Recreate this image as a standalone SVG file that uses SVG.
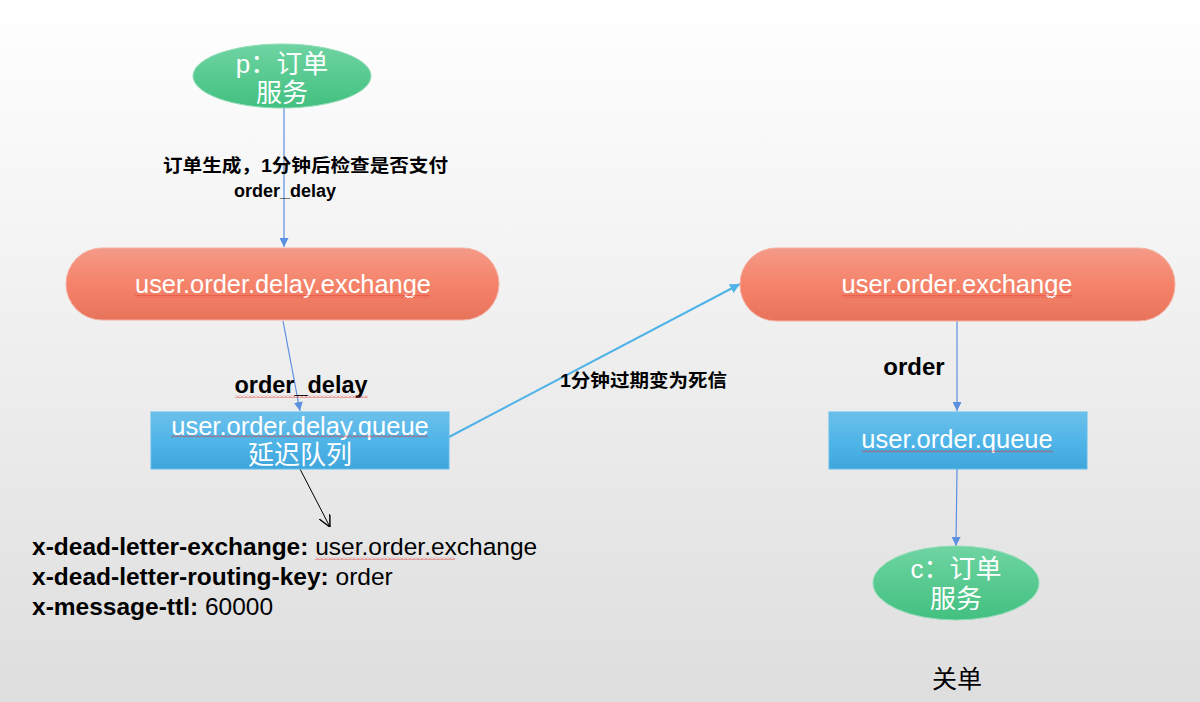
<svg xmlns="http://www.w3.org/2000/svg" width="1200" height="702" viewBox="0 0 1200 702">
<defs>
<linearGradient id="bg" x1="0" y1="0" x2="0" y2="1"><stop offset="0" stop-color="#ffffff"/><stop offset="1" stop-color="#dedede"/></linearGradient>
<linearGradient id="gGreen" x1="0" y1="0" x2="0" y2="1"><stop offset="0" stop-color="#6fd4a2"/><stop offset="1" stop-color="#42c080"/></linearGradient>
<linearGradient id="gRed" x1="0" y1="0" x2="0" y2="1"><stop offset="0" stop-color="#f49a88"/><stop offset="0.5" stop-color="#f5836a"/><stop offset="1" stop-color="#e7735a"/></linearGradient>
<linearGradient id="gBlue" x1="0" y1="0" x2="0" y2="1"><stop offset="0" stop-color="#6cc0ea"/><stop offset="0.5" stop-color="#50b5e8"/><stop offset="1" stop-color="#3fa6dc"/></linearGradient>
<pattern id="sq" width="4" height="3" patternUnits="userSpaceOnUse"><path d="M0,2.5 L2,0.5 L4,2.5" fill="none" stroke="#e0302a" stroke-width="0.8"/></pattern>
<marker id="ah" viewBox="0 0 10 10" refX="10" refY="5" markerWidth="9" markerHeight="9" markerUnits="userSpaceOnUse" orient="auto"><path d="M0,0 L10,5 L0,10 Z" fill="#5b8fe0"/></marker>
<marker id="ah2" viewBox="0 0 10 10" refX="10" refY="5" markerWidth="10" markerHeight="10" markerUnits="userSpaceOnUse" orient="auto"><path d="M0,0 L10,5 L0,10 Z" fill="#4fb3e8"/></marker>
<marker id="ahOpen" viewBox="0 0 10 10" refX="10" refY="5" markerWidth="12" markerHeight="12" markerUnits="userSpaceOnUse" orient="auto"><path d="M0,0 L10,5 L0,10" fill="none" stroke="#000" stroke-width="1.2"/></marker>
</defs>
<style>
.nt{font-family:"Liberation Sans","Noto Sans CJK SC",sans-serif;fill:#fff;text-anchor:middle}
.lb{font-family:"Liberation Sans","Noto Sans CJK SC",sans-serif;fill:#000;font-weight:bold}
.rg{font-family:"Liberation Sans","Noto Sans CJK SC",sans-serif;fill:#000}
.c1{stroke:#5b8fe0;stroke-width:1.2;fill:none;marker-end:url(#ah)}
.ell{fill:url(#gGreen);stroke:#8fdcb5;stroke-width:1}
.pill{fill:url(#gRed);stroke:#f6b0a2;stroke-width:1}
.q{fill:url(#gBlue);stroke:#62bdec;stroke-width:1}
.sq{fill:url(#sq)}
</style>
<rect width="1200" height="702" fill="url(#bg)"/>
<g id="connectors">
<line class="c1" x1="284" y1="108" x2="284" y2="247"/>
<line class="c1" x1="283" y1="321" x2="300" y2="411"/>
<line x1="449" y1="437" x2="740" y2="284" stroke="#4fb3e8" stroke-width="2" marker-end="url(#ah2)"/>
<line x1="300" y1="469" x2="330" y2="527" stroke="#000" stroke-width="1" marker-end="url(#ahOpen)"/>
<line class="c1" x1="957" y1="321" x2="957" y2="411"/>
<line class="c1" x1="957" y1="469" x2="956" y2="546"/>
</g>
<g id="labels">
<text class="lb" x="163" y="172" font-size="18" textLength="285" lengthAdjust="spacingAndGlyphs">订单生成，1分钟后检查是否支付</text>
<text class="lb" x="285" y="197" font-size="18" text-anchor="middle">order_delay</text>
<text class="lb" x="301" y="393" font-size="23.5" text-anchor="middle">order_delay</text>
<rect class="sq" x="235" y="395" width="133" height="3"/>
<text class="lb" x="560" y="387" font-size="18" textLength="167" lengthAdjust="spacingAndGlyphs">1分钟过期变为死信</text>
<text class="lb" x="914" y="375" font-size="24" text-anchor="middle">order</text>
</g>
<g id="producer">
<ellipse class="ell" cx="282" cy="76" rx="89" ry="32"/>
<text class="nt" x="282" y="73" font-size="26">p：订单</text>
<text class="nt" x="282" y="102" font-size="26">服务</text>
</g>
<g id="delay-exchange">
<rect class="pill" x="66" y="248" width="433" height="72" rx="36" ry="36"/>
<text class="nt" x="283" y="293" font-size="25.4">user.order.delay.exchange</text>
<rect class="sq" x="135" y="295" width="295" height="3"/>
</g>
<g id="delay-queue">
<rect class="q" x="151" y="412" width="298" height="57"/>
<text class="nt" x="300" y="435" font-size="25.5">user.order.delay.queue</text>
<rect class="sq" x="171" y="435" width="257" height="3"/>
<text class="nt" x="300" y="464" font-size="26">延迟队列</text>
</g>
<g id="queue-args">
<text class="rg" x="32" y="555" font-size="24.5"><tspan font-weight="bold">x-dead-letter-exchange: </tspan>user.order.exchange</text>
<rect class="sq" x="315" y="557" width="140" height="3"/>
<text class="rg" x="32" y="585" font-size="24.5"><tspan font-weight="bold">x-dead-letter-routing-key: </tspan>order</text>
<text class="rg" x="32" y="615" font-size="24.5"><tspan font-weight="bold">x-message-ttl: </tspan>60000</text>
</g>
<g id="order-exchange">
<rect class="pill" x="740" y="248" width="435" height="73" rx="36" ry="36"/>
<text class="nt" x="957" y="293" font-size="25.5">user.order.exchange</text>
<rect class="sq" x="842" y="295" width="230" height="3"/>
</g>
<g id="order-queue">
<rect class="q" x="829" y="412" width="258" height="57"/>
<text class="nt" x="957" y="448" font-size="25.5">user.order.queue</text>
<rect class="sq" x="862" y="450" width="191" height="3"/>
</g>
<g id="consumer">
<ellipse class="ell" cx="956" cy="583" rx="83" ry="37"/>
<text class="nt" x="956" y="578" font-size="26">c：订单</text>
<text class="nt" x="956" y="608" font-size="26">服务</text>
</g>
<g id="close-order">
<text class="rg" x="957" y="688" font-size="25" text-anchor="middle">关单</text>
</g>
</svg>
